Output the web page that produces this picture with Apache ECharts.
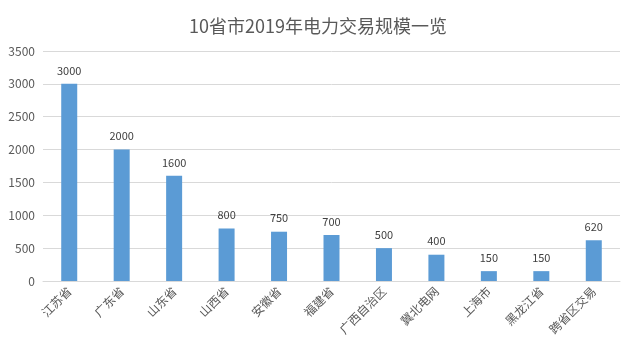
<!DOCTYPE html>
<html><head><meta charset="utf-8">
<script src="https://cdn.jsdelivr.net/npm/echarts@6/dist/echarts.min.js"></script>
<style>html,body{margin:0;padding:0;background:#fff;}#c{width:636px;height:355px;}</style>
</head><body><div id="c"></div>
<script>
const categories = ['江苏省','广东省','山东省','山西省','安徽省','福建省','广西自治区','冀北电网','上海市','黑龙江省','跨省区交易'];
const values = [3000,2000,1600,800,750,700,500,400,150,150,620];
const yTicks = [0,500,1000,1500,2000,2500,3000,3500];
const font = '"Microsoft YaHei","Noto Sans CJK SC",sans-serif';
const chart = echarts.init(document.getElementById('c'));
chart.setOption({
  animation:false,
  title:{text:'10省市2019年电力交易规模一览',left:'center',top:12,
    textStyle:{fontSize:18,fontWeight:'normal',color:'#595959',fontFamily:font}},
  grid:{left:43,right:16,top:51,bottom:74},
  xAxis:{type:'category',data:categories,
    axisLine:{lineStyle:{color:'#d9d9d9'}},axisTick:{show:false},
    axisLabel:{rotate:45,fontSize:12,color:'#595959',fontFamily:font,margin:8,interval:0}},
  yAxis:{type:'value',min:yTicks[0],max:yTicks[yTicks.length-1],interval:500,
    axisLine:{show:false},axisTick:{show:false},
    splitLine:{lineStyle:{color:'#d9d9d9'}},
    axisLabel:{fontSize:12,color:'#595959',fontFamily:font,margin:8,formatter:v=>String(v)}},
  series:[{type:'bar',data:values,barWidth:16,
    itemStyle:{color:'#5b9bd5'},
    label:{show:true,position:'top',fontSize:11,color:'#404040',fontFamily:font,distance:8}}]
});
</script></body></html>
